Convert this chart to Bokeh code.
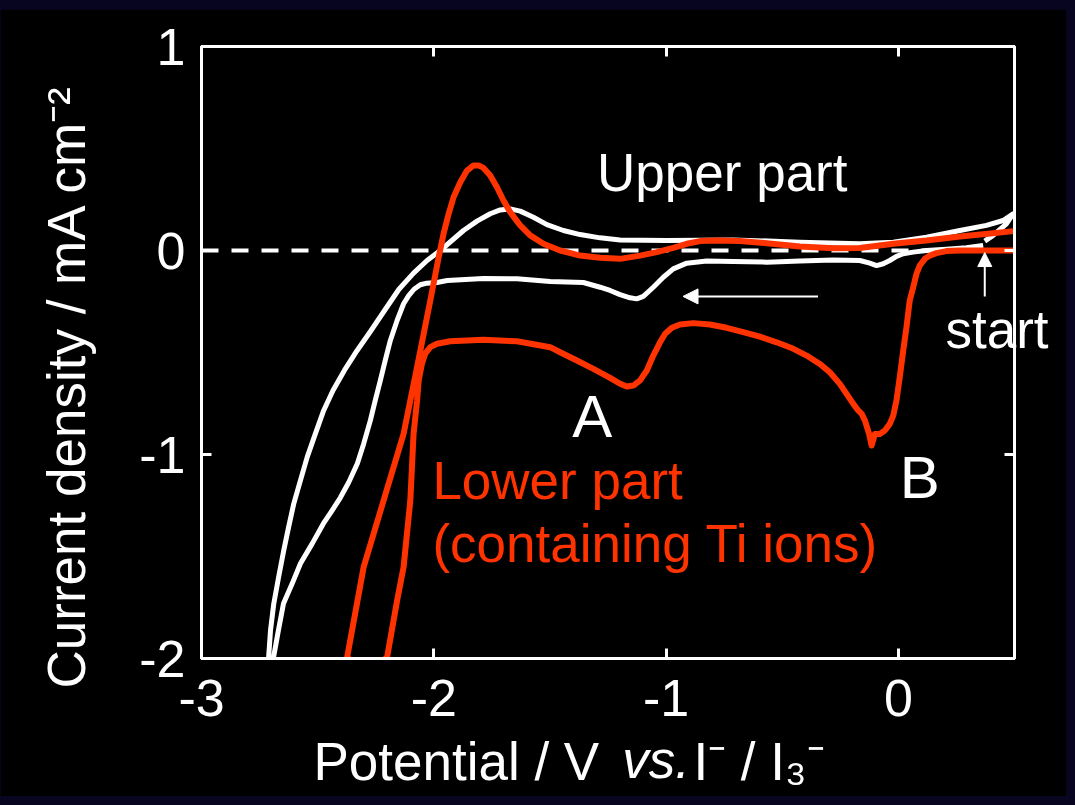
import math
from bokeh.plotting import figure
from bokeh.models import (Label, Arrow, NormalHead, LinearAxis, FixedTicker,
                          Range1d, CustomJSTickFormatter)
from bokeh.embed import file_html
from bokeh.resources import INLINE

# ---------------- data (potential in V, current density in mA cm-2) -------------
# Upper part (white): cathodic scan from the start point, then anodic return
upper_v = [0.365, 0.293, 0.207, 0.121, 0.064, 0.021, -0.008, -0.037, -0.065, -0.094,
           -0.123, -0.166, -0.280, -0.424, -0.567, -0.711, -0.825, -0.911, -0.969, -1.012,
           -1.055, -1.098, -1.126, -1.155, -1.198, -1.241, -1.284, -1.356, -1.499, -1.642,
           -1.786, -1.942, -1.986, -2.030, -2.058, -2.085, -2.108, -2.130,
           -2.158, -2.187, -2.209, -2.230, -2.252, -2.273, -2.302, -2.329, -2.366, -2.402,
           -2.438, -2.475, -2.524, -2.574, -2.610, -2.647, -2.669, -2.690, -2.705,
           -2.711, -2.703, -2.689, -2.668, -2.646, -2.625, -2.603, -2.574, -2.545, -2.510,
           -2.474, -2.434, -2.385, -2.330, -2.270, -2.215, -2.150, -2.087, -2.029, -1.972,
           -1.922, -1.872, -1.814, -1.757, -1.714, -1.671, -1.628, -1.571, -1.513, -1.442,
           -1.370, -1.284, -1.198, -0.997, -0.711, -0.424, -0.166, -0.022, 0.121, 0.265,
           0.379, 0.451, 0.494, 0.465, 0.408, 0.372]
upper_j = [0.025, 0.013, 0.006, 0.000, -0.008, -0.016, -0.029, -0.049, -0.065, -0.074,
           -0.062, -0.049, -0.046, -0.052, -0.057, -0.054, -0.052, -0.062, -0.090, -0.131,
           -0.180, -0.225, -0.237, -0.232, -0.216, -0.196, -0.180, -0.157, -0.152, -0.139,
           -0.137, -0.147, -0.157, -0.160, -0.168, -0.190, -0.221, -0.261,
           -0.343, -0.441, -0.539, -0.637, -0.735, -0.833, -0.948, -1.044, -1.136, -1.211,
           -1.275, -1.338, -1.438, -1.534, -1.634, -1.730, -1.863, -1.995, -2.060,
           -1.994, -1.863, -1.732, -1.601, -1.471, -1.356, -1.242, -1.127, -1.013, -0.899,
           -0.784, -0.686, -0.588, -0.490, -0.392, -0.299, -0.190, -0.111, -0.049, 0.000,
           0.049, 0.098, 0.144, 0.180, 0.199, 0.204, 0.193, 0.163, 0.127, 0.098,
           0.078, 0.062, 0.052, 0.049, 0.052, 0.041, 0.033, 0.041, 0.065, 0.098,
           0.123, 0.147, 0.180, 0.131, 0.074, 0.046]

# Lower part (red, containing Ti ions)
lower_v = [0.494, 0.265, 0.207, 0.164, 0.135, 0.114, 0.092, 0.078, 0.064, 0.049,
           0.035, 0.021, 0.006, -0.008, -0.022, -0.037, -0.058, -0.080, -0.101, -0.115,
           -0.126, -0.144, -0.158, -0.173, -0.194, -0.223, -0.252, -0.295, -0.338, -0.395,
           -0.452, -0.524, -0.596, -0.668, -0.739, -0.811, -0.883, -0.940, -0.975, -1.004,
           -1.026, -1.055, -1.083, -1.112, -1.141, -1.169, -1.198, -1.241, -1.313, -1.384,
           -1.456, -1.499, -1.642, -1.786, -1.929, -1.986, -2.015, -2.037, -2.051, -2.065,
           -2.072, -2.087, -2.101, -2.130, -2.158, -2.201, -2.290,
           -2.373, -2.302, -2.216, -2.130, -2.072, -2.015, -2.001, -1.979, -1.958, -1.936,
           -1.915, -1.886, -1.857, -1.829, -1.807, -1.786, -1.757, -1.728, -1.700, -1.671,
           -1.628, -1.585, -1.528, -1.456, -1.370, -1.284, -1.198, -1.112, -1.040, -0.969,
           -0.911, -0.854, -0.782, -0.682, -0.567, -0.424, -0.280, -0.166, -0.022, 0.121,
           0.265, 0.408, 0.494]
lower_j = [0.000, 0.000, -0.003, -0.013, -0.025, -0.041, -0.074, -0.114, -0.180, -0.245,
           -0.376, -0.490, -0.621, -0.735, -0.809, -0.850, -0.882, -0.899, -0.899, -0.956,
           -0.899, -0.833, -0.801, -0.784, -0.752, -0.703, -0.654, -0.597, -0.556, -0.515,
           -0.482, -0.450, -0.422, -0.400, -0.379, -0.363, -0.356, -0.363, -0.379, -0.408,
           -0.450, -0.515, -0.588, -0.637, -0.662, -0.667, -0.653, -0.624, -0.580, -0.539,
           -0.499, -0.474, -0.445, -0.438, -0.445, -0.457, -0.474, -0.506, -0.555, -0.637,
           -0.735, -0.899, -1.225, -1.552, -1.716, -1.994, -2.070,
           -1.994, -1.552, -1.225, -0.899, -0.572, -0.245, -0.163, -0.033, 0.082, 0.180,
           0.261, 0.335, 0.392, 0.417, 0.417, 0.405, 0.368, 0.310, 0.245, 0.188,
           0.123, 0.074, 0.033, 0.000, -0.025, -0.036, -0.041, -0.025, -0.008, 0.013,
           0.033, 0.046, 0.049, 0.046, 0.036, 0.020, 0.011, 0.012, 0.033, 0.049,
           0.069, 0.085, 0.095]

zero_v = [-3.0, 0.5]
zero_j = [0.0, 0.0]

x_ticks = [-3, -2, -1, 0]
y_ticks = [-2, -1, 0, 1]

# axis titles (text pieces and the axis position they are anchored on)
x_title_parts = ["Potential / V", "I\u207b / I\u2083\u207b"]
x_title_pos = [-1.903, -0.600]
x_title_italic = ["vs."]
x_title_italic_pos = [-1.043]
y_title = ["Current density / mA cm\u207b\u00b2"]
y_title_pos = [-0.245]
start_text = ["start"]
start_pos = [-0.387]

WHITE = "#ffffff"
RED = "#ff3300"
FONT = "Liberation Sans"

p = figure(width=1066, height=787, x_range=Range1d(-3, 0.5), y_range=Range1d(-2, 1),
           output_backend="svg", toolbar_location=None,
           min_border_left=201, min_border_right=52, min_border_top=37,
           min_border_bottom=138)
p.background_fill_color = "black"
p.border_fill_color = "black"
p.outline_line_color = WHITE
p.outline_line_width = 3
p.grid.visible = False

num_fmt = CustomJSTickFormatter(code="return tick.toFixed(0)")
blank_fmt = CustomJSTickFormatter(code="return ''")


def style_frame_axis(ax, ticks, labelled):
    ax.ticker = FixedTicker(ticks=ticks)
    ax.axis_line_color = WHITE
    ax.axis_line_width = 3
    ax.major_tick_line_color = WHITE
    ax.major_tick_line_width = 3
    ax.major_tick_in = 10
    ax.major_tick_out = 0
    ax.minor_tick_line_color = None
    ax.major_label_text_color = WHITE
    ax.major_label_text_font = FONT
    ax.major_label_text_font_size = "52px"
    if labelled:
        ax.formatter = num_fmt
    else:
        ax.formatter = blank_fmt
        ax.major_label_standoff = 0


def text_axis(ticks, labels, standoff, size="53px", style="normal", angle=None):
    ax = LinearAxis(ticker=FixedTicker(ticks=ticks),
                    formatter=CustomJSTickFormatter(args=dict(labels=labels),
                                                    code="return labels[index]"))
    ax.axis_line_color = None
    ax.major_tick_line_color = None
    ax.minor_tick_line_color = None
    ax.major_tick_in = 0
    ax.major_tick_out = 0
    ax.major_label_text_color = WHITE
    ax.major_label_text_font = FONT
    ax.major_label_text_font_size = size
    ax.major_label_text_font_style = style
    ax.major_label_standoff = standoff
    if angle is not None:
        ax.major_label_orientation = angle
    return ax


style_frame_axis(p.xaxis[0], x_ticks, True)
p.xaxis[0].major_label_standoff = 21
style_frame_axis(p.yaxis[0], y_ticks, True)
p.yaxis[0].major_label_standoff = 16

top_ax = LinearAxis()
style_frame_axis(top_ax, x_ticks, False)
p.add_layout(top_ax, "above")
right_ax = LinearAxis()
style_frame_axis(right_ax, y_ticks, False)
p.add_layout(right_ax, "right")

# titles carried by extra axes (so they may sit outside the frame)
p.add_layout(text_axis(x_title_pos, x_title_parts, 13), "below")
p.add_layout(text_axis(x_title_italic_pos, x_title_italic, -64, style="italic"), "below")
p.add_layout(text_axis(y_title_pos, y_title, 70, angle=math.pi / 2), "left")
p.add_layout(text_axis(start_pos, start_text, -69), "right")

# zero line
p.line(zero_v, zero_j, line_color=WHITE, line_width=4, line_dash="17 13")
# curves
p.line(upper_v, upper_j, line_color=WHITE, line_width=5, line_join="round")
p.line(lower_v, lower_j, line_color=RED, line_width=6, line_join="round")


def lab(text, x, y, color=WHITE, size="53px"):
    p.add_layout(Label(text=text, x=x, y=y, text_color=color, text_font=FONT,
                       text_font_size=size, text_align="left",
                       text_baseline="alphabetic"))


lab("Upper part", -1.297, 0.382)
lab("A", -1.404, -0.814, size="60px")
lab("B", 0.006, -1.113, size="60px")
lab("Lower part", -2.006, -1.127, color=RED)
lab("(containing Ti ions)", -2.006, -1.436, color=RED)

# arrows
p.add_layout(Arrow(end=NormalHead(size=15, fill_color=WHITE, line_color=WHITE, line_width=1),
                   x_start=-0.346, y_start=-0.225, x_end=-0.927, y_end=-0.225,
                   line_color=WHITE, line_width=2))
p.add_layout(Arrow(end=NormalHead(size=14, fill_color=WHITE, line_color=WHITE, line_width=1),
                   x_start=0.372, y_start=-0.225, x_end=0.372, y_end=-0.010,
                   line_color=WHITE, line_width=2))

html = file_html(p, INLINE)
style = ("<style>html,body{background:#07051f !important;}"
         "body{padding:9px 0 9px 0 !important;}</style>")
html = html.replace("</head>", style + "</head>", 1)
open("out.html", "w").write(html)
